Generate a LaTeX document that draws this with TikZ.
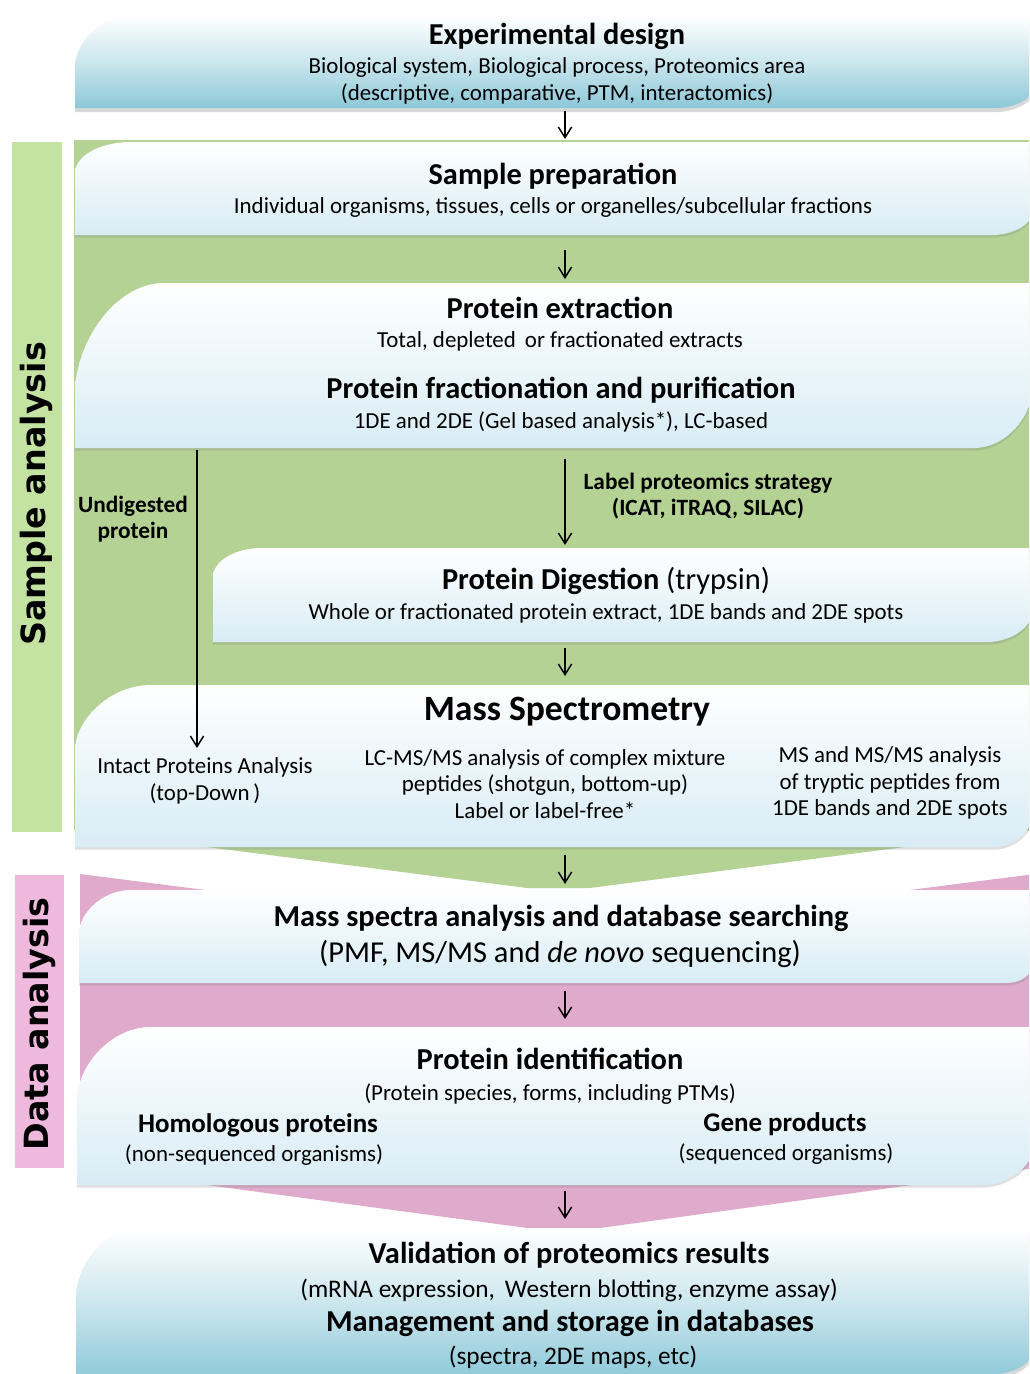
\documentclass[tikz,border=0pt]{standalone}
\usepackage{fontspec}
\setmainfont{Carlito}
\newfontfamily\sidefont{DejaVu Sans}
\usetikzlibrary{shadows,arrows.meta}

\definecolor{bandgreen}{RGB}{180,210,148}
\definecolor{bargreen}{RGB}{196,226,162}
\definecolor{bandpink}{RGB}{224,170,204}
\definecolor{barpink}{RGB}{239,185,222}
\definecolor{paleblue}{RGB}{216,236,245}
\definecolor{deepblue}{RGB}{140,200,216}

\begin{document}
\begin{tikzpicture}[x=0.75pt,y=-0.75pt,
  card/.style={top color=white,bottom color=paleblue,drop shadow={opacity=0.25,shadow xshift=0pt,shadow yshift=-2pt}},
  bigcard/.style={top color=white,bottom color=deepblue,middle color=deepblue!45,drop shadow={opacity=0.3,shadow xshift=0pt,shadow yshift=-3pt}},
  title/.style={font=\bfseries\fontsize{22.8}{27}\selectfont},
  body/.style={font=\fontsize{17.2}{20}\selectfont,align=center},
  note/.style={font=\bfseries\fontsize{17.5}{20}\selectfont,align=center},
  side/.style={rotate=90,font=\sidefont\bfseries\fontsize{25}{30}\selectfont},
  flow/.style={-{Straight Barb[length=8pt,width=10pt,line width=1.1pt]},line width=1pt}]
\useasboundingbox (0,0) rectangle (1029,1374);
\fill[white] (0,0) rectangle (1029,1374);
\clip (0,0) rectangle (1029,1374);

% Background bands
\fill[bandgreen] (74,140) -- (1035,140) -- (1035,830) -- (590,888) -- (527,888) -- (74,830) -- cycle;
\fill[bandpink] (80,874) -- (557,935) -- (1035,874) -- (1035,1168) -- (600,1228) -- (527,1228) -- (80,1168) -- cycle;
\fill[bargreen] (12,142) rectangle (62,832);
\fill[barpink] (15,875) rectangle (64,1168);
\node[side] (sample) at (36,494) {Sample analysis};
\node[side] (data) at (39,1024) {Data analysis};

% Boxes
\path[bigcard] (75,108) -- (75,67) .. controls (75,44) and (100,15) .. (131,15) -- (1032,15) -- (1032,90) .. controls (1032,100) and (1011,108) .. (997,108) -- cycle;
\path[card] (75,235) -- (75,173) .. controls (75,156) and (100,142) .. (131,142) -- (1032,142) -- (1032,213) .. controls (1032,225) and (1011,235) .. (993,235) -- cycle;
\path[card] (75,448) -- (75,393) .. controls (75,343) and (115,283) .. (164,283) -- (1032,283) -- (1032,390) .. controls (1032,416) and (1006,448) .. (974,448) -- cycle;
\path[card] (213,642) -- (213,577) .. controls (213,561) and (235,548) .. (262,548) -- (1032,548) -- (1032,613) .. controls (1032,626) and (1012,642) .. (987,642) -- cycle;
\path[card] (75,847) -- (75,750) .. controls (75,721) and (109,685) .. (151,685) -- (1032,685) -- (1032,817) .. controls (1032,830) and (1015,847) .. (994,847) -- cycle;
\path[card] (79,983) -- (79,933) .. controls (79,914) and (102,890) .. (131,890) -- (1032,890) -- (1032,967) .. controls (1032,974) and (1021,983) .. (1007,983) -- cycle;
\path[card] (77,1185) -- (77,1100) .. controls (77,1067) and (110,1027) .. (151,1027) -- (1032,1027) -- (1032,1150) .. controls (1032,1166) and (1009,1185) .. (981,1185) -- cycle;
\path[bigcard] (76,1380) -- (76,1298) .. controls (76,1266) and (104,1228) .. (138,1228) -- (1032,1228) -- (1032,1353) .. controls (1032,1362) and (1015,1374) .. (994,1374) -- (994,1380) -- cycle;

% Texts
\node[title] (design) at (557,36) {Experimental design};
\node[body] (design-txt) at (557,81) {Biological system, Biological process, Proteomics area\\(descriptive, comparative, PTM, interactomics)};
\node[title] (prep) at (553,176) {Sample preparation};
\node[body] (prep-txt) at (553,208) {Individual organisms, tissues, cells or organelles/subcellular fractions};
\node[title] (extract) at (560,308) {Protein extraction};
\node[body] (extract-txt) at (560,341) {Total, depleted\, or fractionated extracts};
\node[title] (fraction) at (561,390) {Protein fractionation and purification};
\node[body] (fraction-txt) at (561,422) {1DE and 2DE (Gel based analysis*), LC-based};
\node[note] (label) at (708,496) {Label proteomics strategy\\(ICAT, iTRAQ, SILAC)};
\node[note] (undig) at (133,519) {Undigested\\protein};
\node[title] (digest) at (606,581) {Protein Digestion \mdseries(trypsin)};
\node[body] (digest-txt) at (606,613) {Whole or fractionated protein extract, 1DE bands and 2DE spots};
\node[title,font=\bfseries\fontsize{26.7}{32}\selectfont] (ms) at (567,712) {Mass Spectrometry};
\node[body] (intact) at (205,781) {Intact Proteins Analysis\\(top-Down\,)};
\node[body] (lcms) at (545,784) {LC-MS/MS analysis of complex mixture\\peptides (shotgun, bottom-up)\\Label or label-free*};
\node[body] (msms) at (890,783) {MS and MS/MS analysis\\of tryptic peptides from\\1DE bands and 2DE spots};
\node[title] (search) at (561,918) {Mass spectra analysis and database searching};
\node[body,font=\fontsize{22.8}{27}\selectfont] (search-txt) at (560,954) {(PMF, MS/MS and \emph{de novo} sequencing)};
\node[title] (ident) at (550,1059) {Protein identification};
\node[body] (ident-txt) at (550,1094) {(Protein species, forms, including PTMs)};
\node[title,font=\bfseries\fontsize{20.2}{24}\selectfont] (homol) at (258,1125) {Homologous proteins};
\node[body] (homol-txt) at (254,1155) {(non-sequenced organisms)};
\node[title,font=\bfseries\fontsize{20.2}{24}\selectfont] (gene) at (785,1124) {Gene products};
\node[body] (gene-txt) at (786,1154) {(sequenced organisms)};
\node[title] (valid) at (569,1255) {Validation of proteomics results};
\node[body,font=\fontsize{19}{22}\selectfont] (valid-txt) at (569,1290) {(mRNA expression, \,Western blotting, enzyme assay)};
\node[title] (manage) at (570,1323) {Management and storage in databases};
\node[body,font=\fontsize{19}{22}\selectfont] (manage-txt) at (573,1357) {(spectra, 2DE maps, etc)};

% Arrows
\coordinate (design-s) at (565,111);
\coordinate (prep-n) at (565,139);
\coordinate (prep-s) at (565,250);
\coordinate (extract-n) at (565,279);
\coordinate (fraction-s) at (565,459);
\coordinate (digest-n) at (565,545);
\coordinate (digest-s) at (565,648);
\coordinate (ms-n) at (565,676);
\coordinate (ms-s) at (565,855);
\coordinate (search-n) at (565,884);
\coordinate (search-s) at (565,991);
\coordinate (ident-n) at (565,1019);
\coordinate (ident-s) at (565,1191);
\coordinate (valid-n) at (565,1219);
\coordinate (undig-n) at (197,450);
\coordinate (intact-n) at (197,748);
\draw[flow] (design-s) -- (prep-n);
\draw[flow] (prep-s) -- (extract-n);
\draw[flow] (fraction-s) -- (digest-n);
\draw[flow] (digest-s) -- (ms-n);
\draw[flow] (ms-s) -- (search-n);
\draw[flow] (search-s) -- (ident-n);
\draw[flow] (ident-s) -- (valid-n);
\draw[flow] (undig-n) -- (intact-n);
\end{tikzpicture}
\end{document}
